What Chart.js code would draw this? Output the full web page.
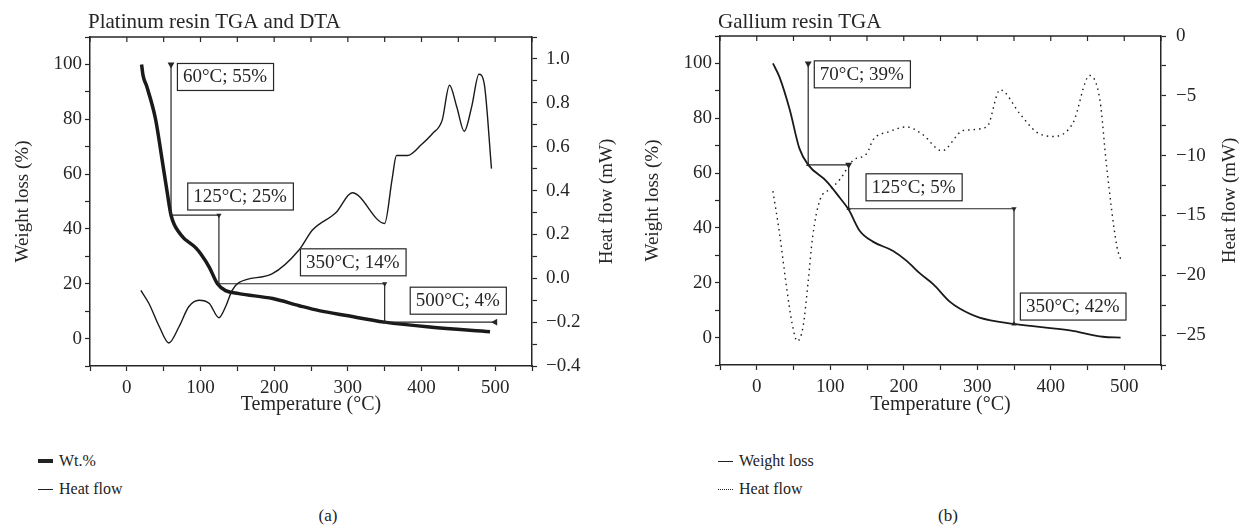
<!DOCTYPE html>
<html>
<head>
<meta charset="utf-8">
<script src="https://cdn.jsdelivr.net/npm/chart.js@4.4.1/dist/chart.umd.min.js"></script>
<style>
  body { margin: 0; background: #fff; width: 1240px; height: 530px; position: relative; overflow: hidden;
         font-family: "Liberation Serif", "DejaVu Serif", serif; color: #222; }
  .panel { position: absolute; top: 0; width: 620px; height: 420px; }
  .legend { position: absolute; font-size: 16px; }
  .legend .row { display: flex; align-items: center; height: 28px; }
  .legend .swatch { display: inline-block; width: 15px; margin-right: 6px; }
  .cap { position: absolute; top: 506px; width: 40px; text-align: center; font-size: 17px; }
</style>
</head>
<body>
<div class="panel" style="left:0"><canvas id="chartA" width="620" height="420"></canvas></div>
<div class="panel" style="left:620px"><canvas id="chartB" width="620" height="420"></canvas></div>

<div class="legend" style="left:38px; top:447px">
  <div class="row"><span class="swatch" style="border-top:4px solid #222"></span>Wt.%</div>
  <div class="row"><span class="swatch" style="border-top:1.5px solid #222"></span>Heat flow</div>
</div>
<div class="legend" style="left:718px; top:447px">
  <div class="row"><span class="swatch" style="border-top:1.5px solid #222"></span>Weight loss</div>
  <div class="row"><span class="swatch" style="border-top:1.5px dotted #222"></span>Heat flow</div>
</div>
<div class="cap" style="left:308px">(a)</div>
<div class="cap" style="left:928px">(b)</div>

<script>
// tick labels
const tempTicks = [0, 100, 200, 300, 400, 500];
const wtTicks = [0, 20, 40, 60, 80, 100];
const ptHeatTicks = [-0.4, -0.2, 0, 0.2, 0.4, 0.6, 0.8, 1.0];
const gaHeatTicks = [-25, -20, -15, -10, -5, 0];

// (a) platinum resin, TGA (Wt.%) and DTA (heat flow, mW)
const ptWtTemp = [20, 22, 27, 39, 48, 55, 60, 73, 94, 100, 112, 123, 134, 152, 198, 234, 261, 298, 350, 411, 493];
const ptWt     = [100, 96, 92, 80, 65, 53, 45, 38, 33, 31, 26, 20, 17.5, 16.4, 14.6, 12, 10.2, 8.4, 6, 4.2, 2.5];
const ptHeatTemp = [19, 30, 44, 57, 71, 84, 98, 112, 125, 134, 143, 152, 197, 234, 252, 284, 306, 350, 360, 366, 381, 400, 415, 428, 438, 448, 458, 468, 478, 485, 495];
const ptHeat     = [-0.055, -0.115, -0.22, -0.295, -0.22, -0.13, -0.10, -0.115, -0.18, -0.13, -0.055, -0.02, 0.02, 0.13, 0.22, 0.30, 0.39, 0.25, 0.45, 0.56, 0.56, 0.61, 0.66, 0.72, 0.88, 0.78, 0.67, 0.78, 0.93, 0.89, 0.50];
// step annotation path and its labels
const ptStepTemp = [60, 60, 125, 125, 350, 350, 500];
const ptStepWt   = [100, 45, 45, 20, 20, 6, 6];
const ptLabels    = ['60°C; 55%', '125°C; 25%', '350°C; 14%', '500°C; 4%'];
const ptLabelTemp = [68, 82, 235, 384];
const ptLabelWt   = [95.6, 52, 28, 14];

// (b) gallium resin TGA
const gaWtTemp = [22, 31, 45, 58, 70, 95, 113, 125, 140, 158, 185, 204, 222, 240, 263, 276, 303, 350, 426, 471, 495];
const gaWt     = [100, 95, 83, 69, 63, 57, 51, 46.7, 39, 35, 31.7, 28, 23.4, 19.5, 13, 10.6, 7.3, 5, 2.6, 0.3, 0];
const gaHeatTemp = [22, 31, 41, 48, 55, 63, 70, 76, 86, 100, 113, 131, 150, 158, 180, 204, 225, 252, 281, 313, 331, 358, 380, 403, 430, 453, 467, 476, 490, 496];
const gaHeat     = [-12.96, -16.5, -21.2, -24, -25.5, -24.3, -20.5, -16.8, -13.7, -12.8, -12, -10.4, -9.8, -8.7, -8.0, -7.6, -8.2, -9.6, -7.9, -7.6, -4.5, -6.5, -8.0, -8.4, -7.3, -3.3, -5.4, -10.9, -17.6, -18.8];
const gaStepTemp = [70, 70, 125, 125, 350, 350];
const gaStepWt   = [100, 63, 63, 47, 47, 5];
const gaLabels    = ['70°C; 39%', '125°C; 5%', '350°C; 42%'];
const gaLabelTemp = [77.6, 148, 358];
const gaLabelWt   = [96.2, 55, 11.5];

const ink = '#262626';
const serif = '"Liberation Serif", "DejaVu Serif", serif';
Chart.defaults.font.family = serif;
Chart.defaults.color = ink;

const pts = (xs, ys) => xs.map((x, i) => ({ x: x, y: ys[i] }));
const has = (list, v) => list.some(t => Math.abs(t - v) < 1e-6);
const minus = s => s.replace('-', '\u2212');

function axis(extra, showList, fmt) {
  return Object.assign({
    type: 'linear',
    grid: { drawOnChartArea: false, drawTicks: true, tickLength: 5, tickColor: ink, tickWidth: 1.2 },
    border: { display: true, color: ink, width: 1.5 },
    ticks: {
      font: { size: 19 }, color: ink, padding: 3, autoSkip: false, maxRotation: 0,
      callback: v => has(showList, v) ? fmt(v) : ''
    },
    title: { display: true, font: { size: 19 }, color: ink }
  }, extra);
}

// frame top line, inward top ticks, panel title, right-axis title, boxed annotations
const decor = {
  id: 'decor',
  afterDatasetsDraw(chart, args, o) {
    const { ctx, chartArea: a, scales } = chart;
    ctx.save();
    ctx.strokeStyle = ink;
    ctx.lineWidth = 1.5;
    ctx.beginPath();
    ctx.moveTo(a.left, a.top);
    ctx.lineTo(a.right, a.top);
    ctx.stroke();
    ctx.lineWidth = 1.2;
    scales.x.ticks.forEach(t => {
      const px = scales.x.getPixelForValue(t.value);
      ctx.beginPath();
      ctx.moveTo(px, a.top);
      ctx.lineTo(px, a.top + 5);
      ctx.stroke();
    });
    ctx.fillStyle = ink;
    ctx.font = '21px ' + serif;
    ctx.textBaseline = 'middle';
    ctx.textAlign = 'left';
    ctx.fillText(o.title, a.left - 2, 22);

    // right axis title reads bottom to top
    ctx.save();
    ctx.font = '19px ' + serif;
    ctx.textAlign = 'center';
    ctx.translate(chart.width - o.rightTitleGap, (a.top + a.bottom) / 2);
    ctx.rotate(-Math.PI / 2);
    ctx.fillText(o.rightTitle, 0, 0);
    ctx.restore();

    ctx.font = '19px ' + serif;
    o.labels.forEach((txt, i) => {
      const x0 = scales.x.getPixelForValue(o.labelTemp[i]);
      const yc = scales.y.getPixelForValue(o.labelWt[i]);
      const w = ctx.measureText(txt).width + 12;
      const h = 27;
      ctx.fillStyle = '#fff';
      ctx.fillRect(x0, yc - h / 2, w, h);
      ctx.strokeStyle = ink;
      ctx.lineWidth = 1.2;
      ctx.strokeRect(x0 + 0.5, yc - h / 2 + 0.5, w, h);
      ctx.fillStyle = ink;
      ctx.fillText(txt, x0 + 6, yc + 1);
    });
    ctx.restore();
  }
};

const xAxis = (h) => axis({
  min: -50, max: 550, position: 'bottom',
  afterFit: s => { s.height = h; },
  ticks: Object.assign({}, axis({}, tempTicks, v => String(v)).ticks, { stepSize: 50, padding: 6 }),
  title: { display: true, text: 'Temperature (°C)', font: { size: 20 }, color: ink, padding: { top: 0, bottom: 3 } }
}, tempTicks, v => String(v));

function wtAxis(w, pad) {
  const a = axis({
    min: -10, max: 110, position: 'left',
    afterFit: s => { s.width = w; },
    title: { display: true, text: 'Weight loss (%)', font: { size: 19 }, color: ink, padding: { top: pad, bottom: 0 } }
  }, wtTicks, v => String(v));
  a.ticks.stepSize = 10;
  return a;
}

new Chart(document.getElementById('chartA'), {
  type: 'line',
  data: {
    datasets: [
      { data: pts(ptStepTemp, ptStepWt), yAxisID: 'y', borderColor: ink, borderWidth: 1.2, tension: 0,
        pointStyle: 'triangle', pointRadius: [4, 0, 3, 0, 3, 2.5, 4], pointRotation: [180, 0, 180, 0, 180, 0, 270],
        pointBackgroundColor: ink, pointBorderColor: ink, pointBorderWidth: 0 },
      { label: 'Wt.%', data: pts(ptWtTemp, ptWt), yAxisID: 'y', borderColor: '#1a1a1a', borderWidth: 3.5,
        pointRadius: 0, cubicInterpolationMode: 'monotone' },
      { label: 'Heat flow', data: pts(ptHeatTemp, ptHeat), yAxisID: 'y2', borderColor: '#1a1a1a', borderWidth: 1.4,
        pointRadius: 0, cubicInterpolationMode: 'monotone' }
    ]
  },
  options: {
    responsive: false, animation: false, devicePixelRatio: 1,
    layout: { padding: { top: 37, left: 0, right: 0, bottom: 0 } },
    plugins: {
      legend: { display: false }, tooltip: { enabled: false },
      decor: { title: 'Platinum resin TGA and DTA', rightTitle: 'Heat flow (mW)', rightTitleGap: 13,
               labels: ptLabels, labelTemp: ptLabelTemp, labelWt: ptLabelWt }
    },
    scales: {
      x: xAxis(54),
      y: wtAxis(90, 12),
      y2: (() => {
        const a = axis({
          min: -0.4, max: 1.1, position: 'right',
          afterFit: s => { s.width = 88; },
          title: { display: false }
        }, ptHeatTicks, v => { const r = Math.round(v * 10) / 10; return Math.abs(r) < 1e-9 ? '0.0' : minus(r.toFixed(1)); });
        a.ticks.stepSize = 0.1;
        a.ticks.padding = 9;
        return a;
      })()
    }
  },
  plugins: [decor]
});

new Chart(document.getElementById('chartB'), {
  type: 'line',
  data: {
    datasets: [
      { data: pts(gaStepTemp, gaStepWt), yAxisID: 'y', borderColor: ink, borderWidth: 1.2, tension: 0,
        pointStyle: 'triangle', pointRadius: [4, 2.5, 4, 2.5, 3, 3], pointRotation: [180, 0, 180, 0, 180, 0],
        pointBackgroundColor: ink, pointBorderColor: ink, pointBorderWidth: 0 },
      { label: 'Weight loss', data: pts(gaWtTemp, gaWt), yAxisID: 'y', borderColor: '#1a1a1a', borderWidth: 1.8,
        pointRadius: 0, cubicInterpolationMode: 'monotone' },
      { label: 'Heat flow', data: pts(gaHeatTemp, gaHeat), yAxisID: 'y2', borderColor: '#1a1a1a', borderWidth: 1.4,
        borderDash: [1.5, 4], pointRadius: 0, cubicInterpolationMode: 'monotone' }
    ]
  },
  options: {
    responsive: false, animation: false, devicePixelRatio: 1,
    layout: { padding: { top: 36, left: 0, right: 0, bottom: 0 } },
    plugins: {
      legend: { display: false }, tooltip: { enabled: false },
      decor: { title: 'Gallium resin TGA', rightTitle: 'Heat flow (mW)', rightTitleGap: 10,
               labels: gaLabels, labelTemp: gaLabelTemp, labelWt: gaLabelWt }
    },
    scales: {
      x: xAxis(55),
      y: wtAxis(100, 22),
      y2: (() => {
        const a = axis({
          min: -27.5, max: 0, position: 'right',
          afterFit: s => { s.width = 79; },
          title: { display: false }
        }, gaHeatTicks, v => minus(String(Math.round(v))));
        a.ticks.stepSize = 2.5;
        a.ticks.padding = 10;
        return a;
      })()
    }
  },
  plugins: [decor]
});
</script>
</body>
</html>
